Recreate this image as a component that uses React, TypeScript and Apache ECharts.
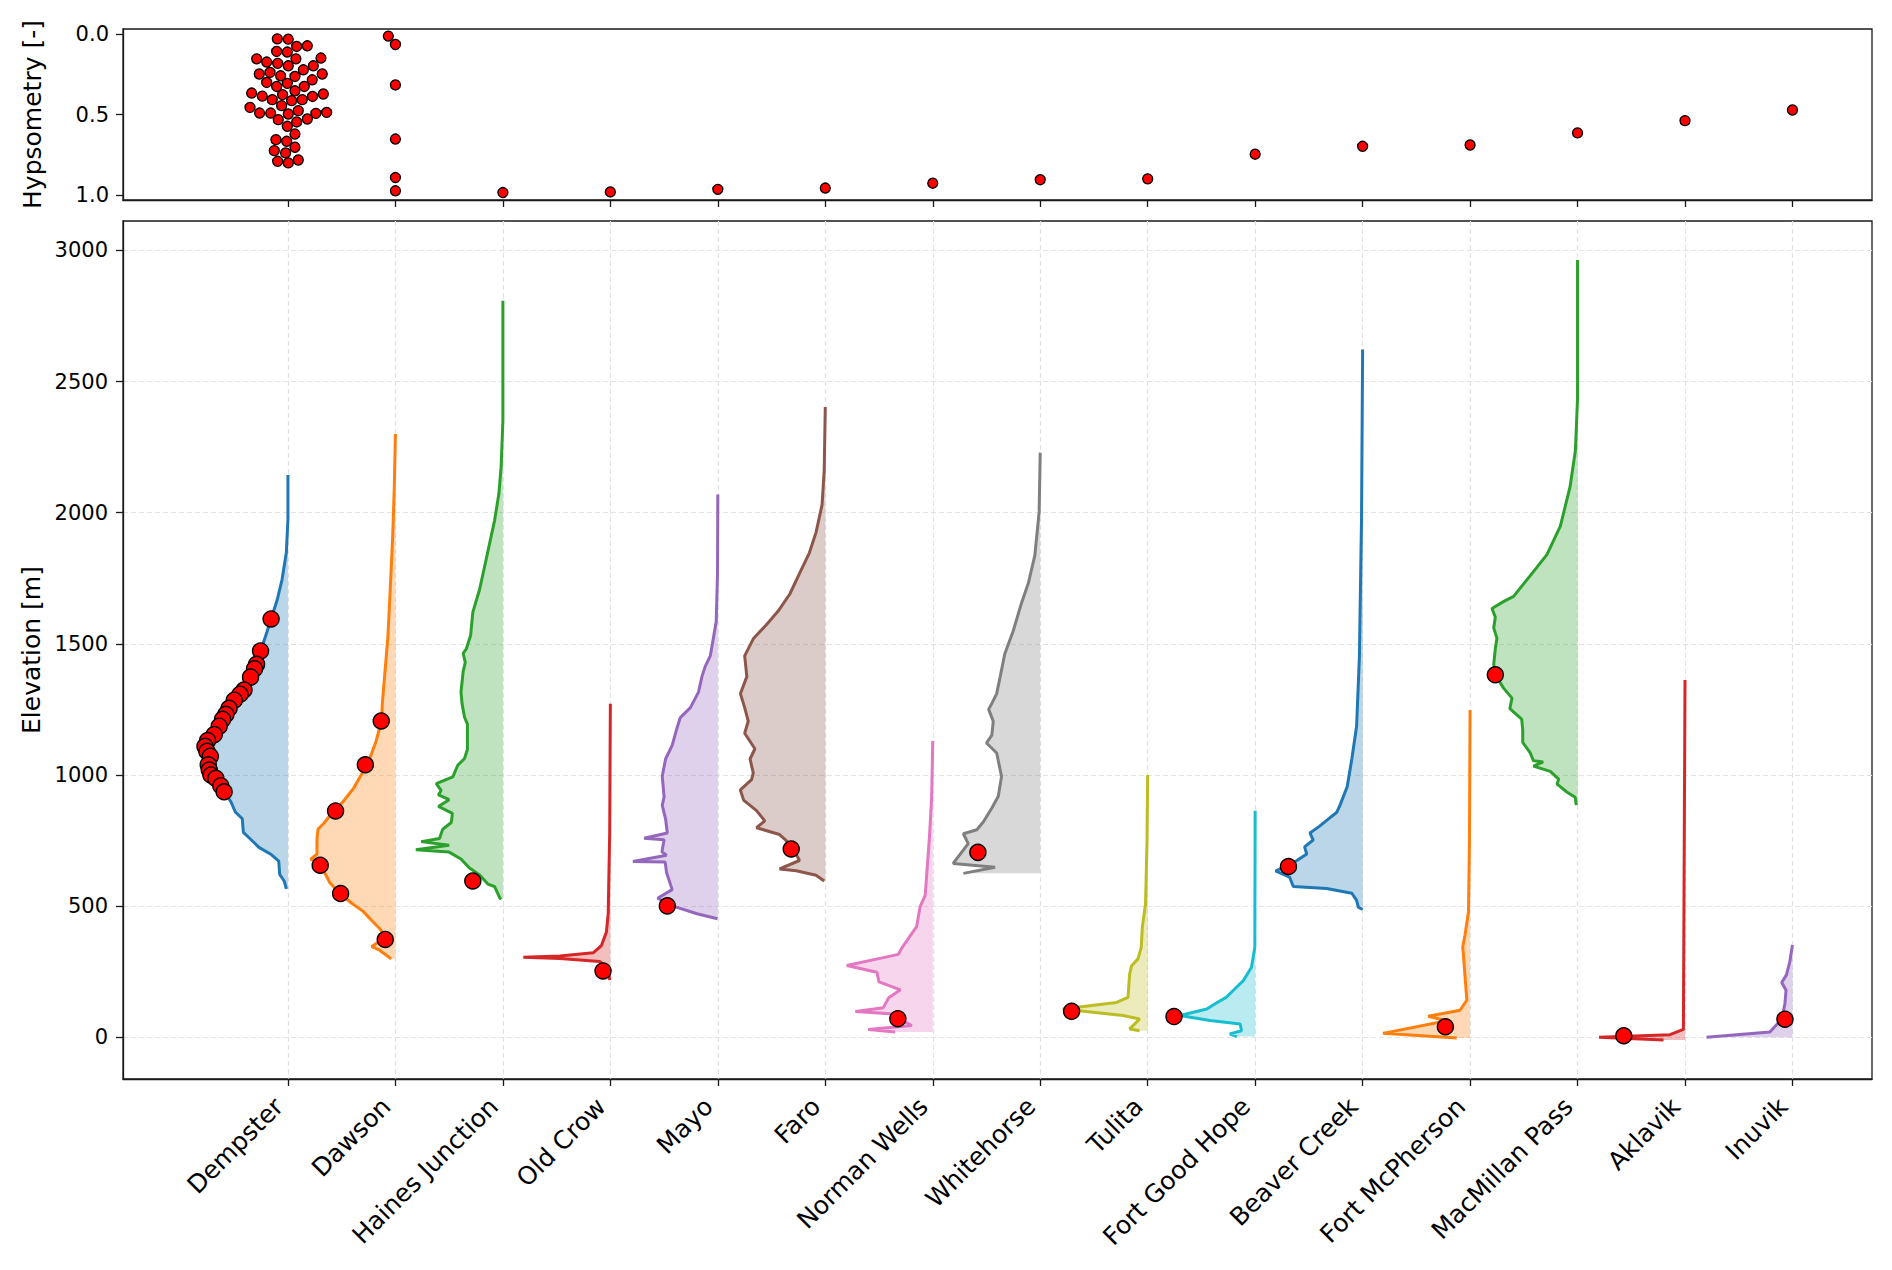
import React, { useEffect, useRef } from "react";
import * as echarts from "echarts";

// ---------- data ----------
const stations = [
  "Dempster", "Dawson", "Haines Junction", "Old Crow", "Mayo", "Faro",
  "Norman Wells", "Whitehorse", "Tulita", "Fort Good Hope", "Beaver Creek",
  "Fort McPherson", "MacMillan Pass", "Aklavik", "Inuvik",
];

const colors = [
  "#1f77b4", "#ff7f0e", "#2ca02c", "#d62728", "#9467bd", "#8c564b", "#e377c2",
  "#7f7f7f", "#bcbd22", "#17becf", "#1f77b4", "#ff7f0e", "#2ca02c", "#d62728", "#9467bd",
];

// elevation profiles: [elevation m, relative density width]
const dempsterProfile = [[2144,0],[1977,0],[1848,0.015],[1745,0.055],[1668,0.10],[1595,0.157],[1527,0.21],[1473,0.255],[1418,0.30],[1373,0.35],[1311,0.44],[1257,0.53],[1206,0.63],[1154,0.70],[1109,0.78],[1071,0.785],[1026,0.76],[981,0.70],[936,0.59],[897,0.53],[859,0.49],[833,0.425],[781,0.415],[756,0.35],[724,0.27],[698,0.16],[672,0.086],[621,0.077],[595,0.034],[566,0.015]];
const dawsonProfile = [[2300,0],[2105,0.01],[1913,0.025],[1694,0.05],[1527,0.07],[1283,0.12],[1206,0.13],[1129,0.18],[1045,0.255],[949,0.39],[897,0.49],[865,0.57],[814,0.67],[794,0.72],[756,0.73],[698,0.73],[679,0.79],[672,0.73],[653,0.70],[621,0.65],[589,0.61],[550,0.52],[512,0.41],[480,0.30],[447,0.225],[415,0.148],[383,0.086],[346,0.22],[333,0.15],[299,0.04]];
const hainesProfile = [[2808,0],[2352,0],[2178,0.016],[2073,0.037],[1969,0.078],[1882,0.124],[1795,0.17],[1707,0.217],[1620,0.28],[1533,0.30],[1481,0.34],[1464,0.37],[1429,0.35],[1394,0.37],[1316,0.39],[1272,0.38],[1220,0.357],[1194,0.33],[1098,0.33],[1063,0.357],[1037,0.42],[993,0.466],[967,0.62],[941,0.575],[924,0.6],[906,0.50],[880,0.60],[854,0.47],[819,0.48],[793,0.56],[758,0.59],[746,0.76],[732,0.50],[715,0.81],[706,0.50],[680,0.39],[645,0.31],[619,0.217],[584,0.14],[575,0.078],[532,0.03],[526,0.016]];
const oldCrowProfile = [[1272,0],[784,0.006],[471,0.02],[401,0.037],[349,0.084],[322,0.16],[310,0.47],[305,0.81],[300,0.47],[289,0.1],[262,0.02],[218,0.006]];
const mayoProfile = [[2069,0],[1768,0.003],[1585,0.015],[1454,0.07],[1414,0.117],[1375,0.148],[1316,0.18],[1257,0.255],[1218,0.35],[1179,0.38],[1113,0.425],[1061,0.486],[995,0.517],[917,0.50],[884,0.517],[832,0.486],[779,0.47],[759,0.686],[753,0.50],[707,0.52],[694,0.477],[670,0.79],[668,0.49],[628,0.477],[563,0.425],[530,0.56],[497,0.394],[471,0.194],[452,0.003]];
const faroProfile = [[2403,0],[2161,0.01],[2030,0.03],[1925,0.086],[1847,0.148],[1781,0.225],[1690,0.33],[1624,0.44],[1572,0.55],[1519,0.67],[1454,0.75],[1375,0.73],[1310,0.79],[1257,0.75],[1205,0.717],[1159,0.75],[1100,0.655],[1061,0.70],[1008,0.67],[982,0.686],[943,0.79],[904,0.76],[864,0.64],[825,0.563],[799,0.64],[773,0.425],[733,0.317],[674,0.24],[642,0.425],[635,0.27],[618,0.086],[596,0.01]];
const normanWellsProfile = [[1130,0],[919,0.01],[768,0.03],[542,0.07],[497,0.118],[422,0.15],[377,0.226],[339,0.29],[316,0.32],[274,0.80],[248,0.52],[211,0.50],[181,0.30],[151,0.41],[113,0.46],[98,0.72],[90,0.40],[45,0.195],[30,0.60],[20,0.35]];
const whitehorseProfile = [[2229,0],[2003,0.01],[1837,0.05],[1732,0.11],[1657,0.173],[1551,0.25],[1461,0.33],[1370,0.375],[1310,0.405],[1273,0.45],[1250,0.48],[1205,0.437],[1152,0.45],[1122,0.50],[1084,0.405],[994,0.36],[919,0.39],[874,0.45],[821,0.53],[791,0.59],[776,0.715],[738,0.67],[663,0.81],[648,0.42],[625,0.715]];
const tulitaProfile = [[1000,0],[750,0.006],[508,0.02],[419,0.05],[343,0.06],[299,0.09],[273,0.15],[241,0.168],[152,0.183],[133,0.29],[108,0.79],[83,0.23],[70,0.075],[51,0.12],[32,0.168],[25,0.075]];
const fortGoodHopeProfile = [[864,0],[343,0.003],[267,0.034],[216,0.11],[184,0.19],[152,0.27],[127,0.376],[108,0.45],[83,0.70],[64,0.42],[51,0.14],[25,0.127],[13,0.236],[3,0.17]];
const beaverCreekProfile = [[2622,0],[1982,0.01],[1451,0.03],[1186,0.056],[1062,0.10],[956,0.143],[885,0.21],[858,0.24],[832,0.32],[805,0.40],[779,0.49],[752,0.46],[726,0.54],[699,0.52],[673,0.615],[634,0.81],[611,0.68],[575,0.645],[567,0.335],[549,0.10],[522,0.056],[496,0.04],[487,0]];
const fortMcPhersonProfile = [[1248,0],[743,0.006],[478,0.015],[390,0.047],[345,0.068],[142,0.03],[103,0.093],[80,0.39],[63,0.217],[15,0.81],[-3,0.124]];
const macMillanProfile = [[2963,0],[2436,0],[2237,0.02],[2098,0.07],[1949,0.16],[1840,0.285],[1760,0.44],[1681,0.595],[1661,0.69],[1635,0.796],[1601,0.765],[1561,0.78],[1521,0.75],[1482,0.765],[1422,0.78],[1382,0.765],[1332,0.69],[1293,0.61],[1253,0.63],[1213,0.52],[1173,0.51],[1124,0.51],[1084,0.44],[1054,0.41],[1050,0.32],[1034,0.41],[1014,0.254],[984,0.176],[965,0.19],[935,0.10],[915,0.022],[885,0.012]];
const aklavikProfile = [[1362,0],[30,0.015],[10,0.14],[0,0.80],[-10,0.2]];
const inuvikProfile = [[352,0],[288,0.025],[238,0.056],[209,0.10],[179,0.06],[129,0.07],[69,0.10],[20,0.21],[0,0.80]];

const profiles = [
  dempsterProfile, dawsonProfile, hainesProfile, oldCrowProfile, mayoProfile, faroProfile,
  normanWellsProfile, whitehorseProfile, tulitaProfile, fortGoodHopeProfile, beaverCreekProfile,
  fortMcPhersonProfile, macMillanProfile, aklavikProfile, inuvikProfile,
];

// station elevations: [station index, elevation m, density width at the point]
const stationElevations = [
  [0,1595,0.157],[0,1473,0.255],[0,1422,0.292],[0,1405,0.311],[0,1373,0.348],[0,1324,0.409],[0,1308,0.446],[0,1285,0.50],[0,1254,0.548],[0,1231,0.578],[0,1212,0.609],[0,1186,0.64],[0,1154,0.686],[0,1131,0.748],[0,1109,0.772],[0,1090,0.754],[0,1071,0.723],[0,1039,0.742],[0,1019,0.732],[0,1000,0.717],[0,987,0.671],[0,959,0.625],[0,936,0.594],
  [1,1206,0.132],[1,1039,0.28],[1,863,0.557],[1,656,0.70],[1,548,0.51],[1,373,0.095],
  [2,596,0.28],[3,253,0.068],[4,501,0.47],[5,718,0.317],[6,71,0.325],[7,705,0.58],
  [8,99,0.708],[9,79,0.755],[10,651,0.69],[11,40,0.23],[12,1382,0.765],[13,6,0.57],[14,69,0.07],
];

// hypsometry: [station index, swarm offset, hypsometry]
const hypsometry = [
  [0,-0.099,0.031],[0,0.003,0.033],[0,0.081,0.078],[0,0.18,0.074],[0,-0.105,0.109],[0,-0.006,0.113],
  [0,0.074,0.155],[0,-0.291,0.155],[0,-0.198,0.175],[0,-0.096,0.183],[0,0.003,0.198],[0,0.307,0.150],
  [0,0.236,0.198],[0,0.143,0.223],[0,0.319,0.249],[0,-0.267,0.249],[0,-0.167,0.239],[0,-0.068,0.260],
  [0,0.065,0.264],[0,-0.198,0.301],[0,-0.105,0.326],[0,-0.006,0.307],[0,0.152,0.326],[0,0.226,0.285],
  [0,-0.338,0.367],[0,-0.239,0.386],[0,-0.146,0.408],[0,-0.05,0.377],[0,0.034,0.414],[0,0.065,0.353],
  [0,0.133,0.408],[0,0.229,0.388],[0,0.329,0.373],[0,-0.353,0.456],[0,-0.264,0.491],[0,-0.161,0.491],
  [0,-0.059,0.445],[0,0.096,0.476],[0,-0.09,0.532],[0,0.003,0.497],[0,0.081,0.546],[0,0.18,0.528],
  [0,0.26,0.493],[0,0.36,0.487],[0,-0.006,0.573],[0,0.065,0.621],[0,-0.112,0.656],[0,-0.012,0.666],
  [0,0.065,0.703],[0,-0.127,0.724],[0,-0.022,0.738],[0,-0.096,0.790],[0,0.003,0.800],[0,0.096,0.782],
  [1,-0.066,0.014],[1,0,0.066],[1,0,0.317],[1,0,0.652],[1,0,0.891],[1,0,0.973],
  [2,0,0.984],[3,0,0.980],[4,0,0.964],[5,0,0.956],[6,0,0.926],[7,0,0.904],[8,0,0.899],
  [9,0,0.746],[10,0,0.697],[11,0,0.689],[12,0,0.614],[13,0,0.538],[14,0,0.472],
];

const elevationTicks = [0, 500, 1000, 1500, 2000, 2500, 3000];
const hypsometryTicks = [0, 0.5, 1.0];
const stationTicks = stations.map((_, i) => i);

// ---------- chart ----------
const FONT = "DejaVu Sans";
const INK = "#1a1a1a";

function hexToRgba(hex: string, a: number) {
  const n = parseInt(hex.slice(1), 16);
  return `rgba(${(n >> 16) & 255},${(n >> 8) & 255},${n & 255},${a})`;
}

export default function App() {
  const ref = useRef<HTMLDivElement>(null);

  useEffect(() => {
    if (!ref.current) return;
    const chart = echarts.init(ref.current, undefined, { renderer: "svg" });

    const xMin = -1.535;
    const xMax = 14.74;

    const series: any[] = [];
    profiles.forEach((prof, i) => {
      series.push({
        type: "custom",
        xAxisIndex: 1,
        yAxisIndex: 1,
        silent: true,
        z: 1,
        data: [[i, prof[0][0]]],
        renderItem: (_params: any, api: any) => {
          const pts = prof.map(([e, w]) => api.coord([i - w, e]));
          pts.push(api.coord([i, prof[prof.length - 1][0]]));
          pts.push(api.coord([i, prof[0][0]]));
          return {
            type: "polygon",
            shape: { points: pts },
            style: { fill: hexToRgba(colors[i], 0.3), stroke: "none" },
          };
        },
      });
      series.push({
        type: "line",
        xAxisIndex: 1,
        yAxisIndex: 1,
        silent: true,
        z: 3,
        symbol: "none",
        data: prof.map(([e, w]) => [i - w, e]),
        lineStyle: { color: colors[i], width: 3 },
      });
    });

    series.push({
      type: "scatter",
      xAxisIndex: 1,
      yAxisIndex: 1,
      z: 5,
      symbolSize: 16,
      data: stationElevations.map(([s, e, w]) => [s - w, e]),
      itemStyle: { color: "#ff0000", borderColor: "#000", borderWidth: 1.4, opacity: 1 },
    });

    series.push({
      type: "scatter",
      xAxisIndex: 0,
      yAxisIndex: 0,
      z: 5,
      symbolSize: 10,
      data: hypsometry.map(([s, o, h]) => [s + o, h]),
      itemStyle: { color: "#ff0000", borderColor: "#000", borderWidth: 1.3, opacity: 1 },
    });

    const tickStyle = { show: true, length: 7, lineStyle: { color: INK, width: 1.3 } };
    const lineStyleAxis = { show: true, onZero: false, lineStyle: { color: INK, width: 1.3 } };
    const gridDash = { show: true, lineStyle: { color: "#e3e3e3", width: 1.2, type: [5, 3] } };

    chart.setOption({
      animation: false,
      backgroundColor: "#fff",
      textStyle: { fontFamily: FONT },
      grid: [
        { left: 123, top: 29, width: 1749, height: 171, show: true, borderColor: INK, borderWidth: 1.3, backgroundColor: "transparent" },
        { left: 123, top: 221, width: 1749, height: 858, show: true, borderColor: INK, borderWidth: 1.3, backgroundColor: "transparent" },
      ],
      xAxis: [
        {
          type: "value", gridIndex: 0, min: xMin, max: xMax, position: "bottom",
          axisLine: lineStyleAxis,
          axisTick: { ...tickStyle, customValues: stationTicks },
          axisLabel: { show: false, customValues: stationTicks },
          splitLine: { show: false },
        },
        {
          type: "value", gridIndex: 1, min: xMin, max: xMax, position: "bottom",
          axisLine: lineStyleAxis,
          axisTick: { ...tickStyle, customValues: stationTicks },
          axisLabel: {
            customValues: stationTicks,
            formatter: (v: number) => stations[Math.round(v)] ?? "",
            rotate: 45,
            fontSize: 25,
            color: "#000",
            fontFamily: FONT,
            margin: 14,
            padding: [0, 13, 0, 0],
          },
          splitLine: gridDash,
        },
      ],
      yAxis: [
        {
          type: "value", gridIndex: 0, min: -0.03, max: 1.03, inverse: true,
          name: "Hypsometry [-]", nameLocation: "middle", nameGap: 78,
          nameTextStyle: { fontSize: 25, color: "#000", fontFamily: FONT },
          axisLine: lineStyleAxis,
          axisTick: { ...tickStyle, customValues: hypsometryTicks },
          axisLabel: {
            customValues: hypsometryTicks,
            formatter: (v: number) => v.toFixed(1),
            fontSize: 21, color: "#000", fontFamily: FONT, margin: 14,
          },
          splitLine: { show: false },
        },
        {
          type: "value", gridIndex: 1, min: -159, max: 3112,
          name: "Elevation [m]", nameLocation: "middle", nameGap: 78,
          nameTextStyle: { fontSize: 25, color: "#000", fontFamily: FONT },
          axisLine: lineStyleAxis,
          axisTick: { ...tickStyle, customValues: elevationTicks },
          axisLabel: {
            customValues: elevationTicks,
            formatter: (v: number) => String(v),
            fontSize: 21, color: "#000", fontFamily: FONT, margin: 15,
          },
          splitLine: gridDash,
        },
      ],
      series,
    });

    return () => chart.dispose();
  }, []);

  return (
    <div
      ref={ref}
      style={{ position: "absolute", left: 0, top: 0, width: 1892, height: 1270, background: "#fff" }}
    />
  );
}
